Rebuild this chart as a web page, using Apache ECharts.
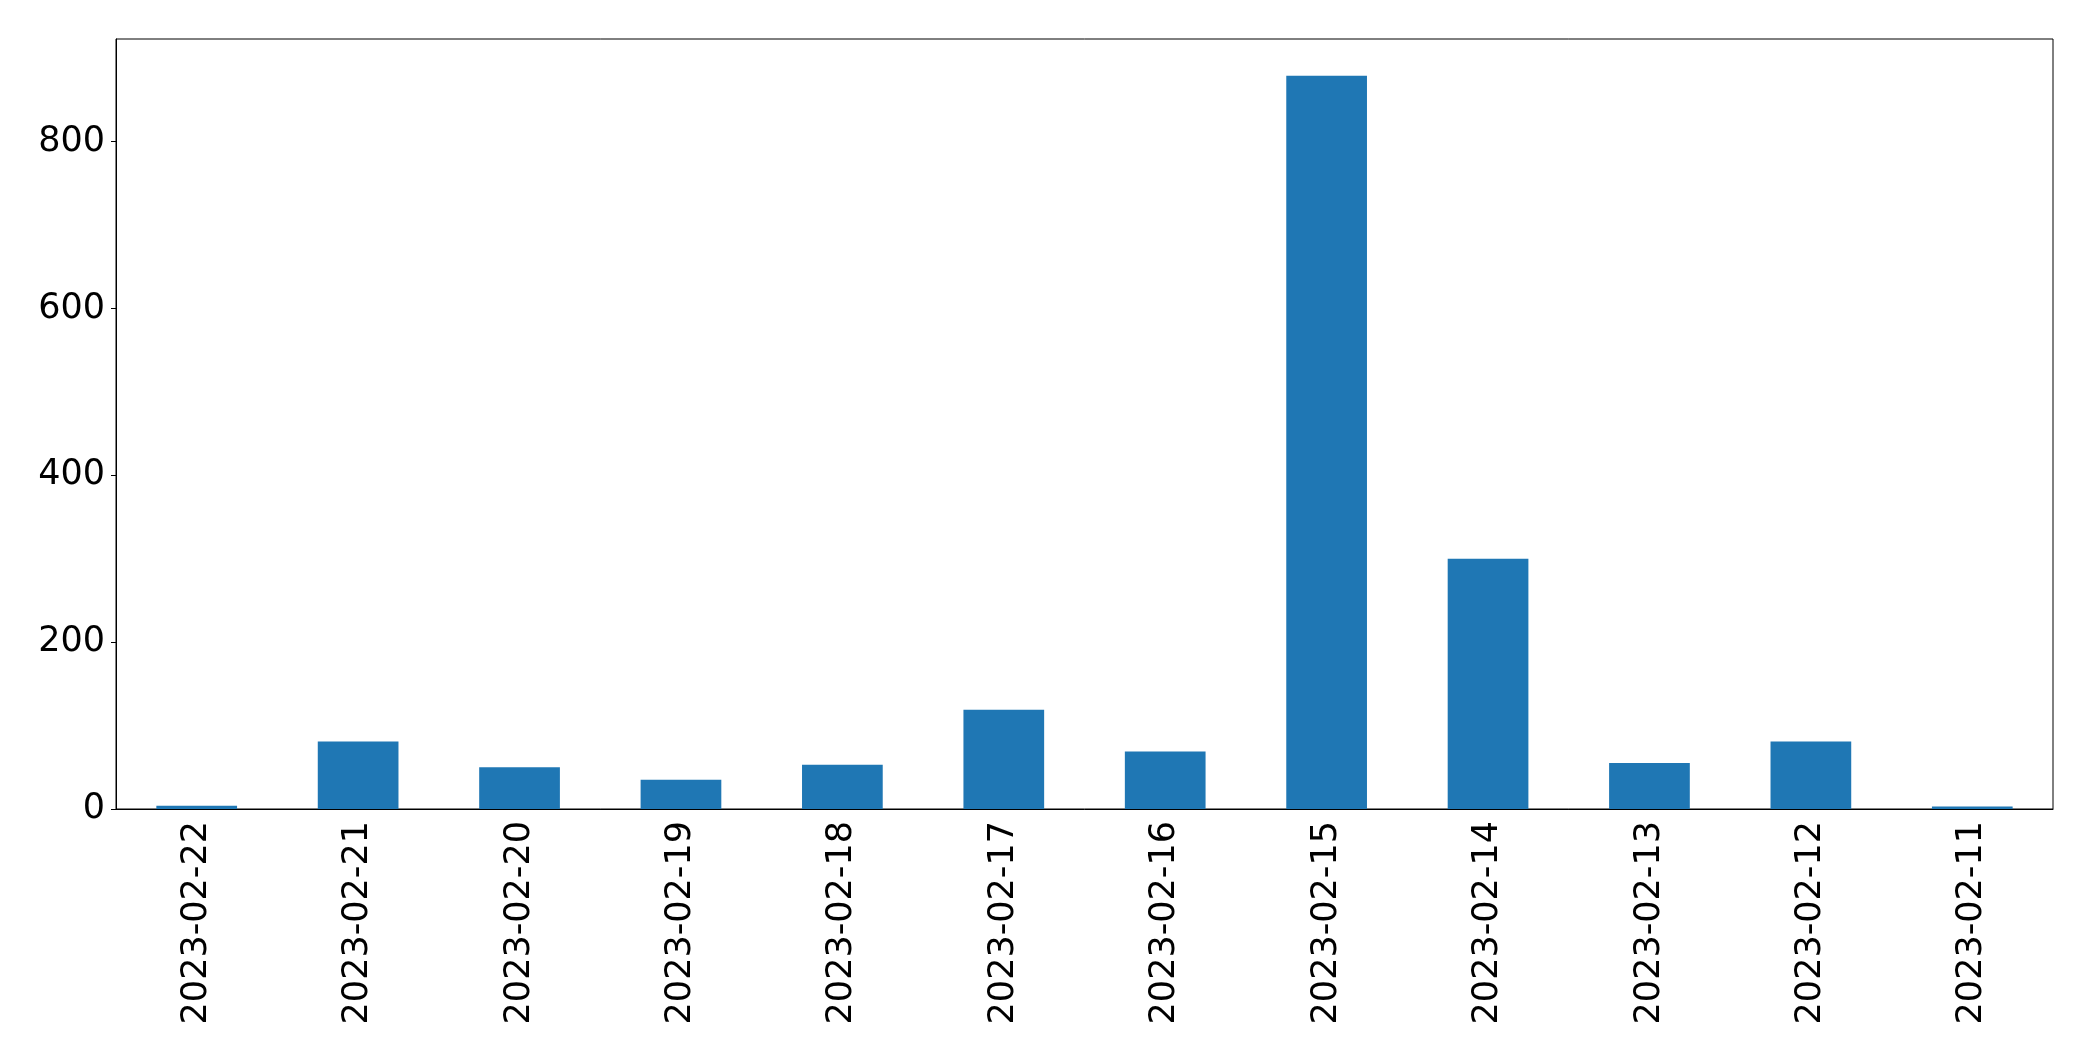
<!DOCTYPE html>
<html>
<head>
<meta charset="utf-8">
<script src="https://cdn.jsdelivr.net/npm/echarts@6/dist/echarts.min.js"></script>
<style>
html,body{margin:0;padding:0;background:#fff;}
#chart{width:2093px;height:1061px;}
</style>
</head>
<body>
<div id="chart"></div>
<script>
const categories = ["2023-02-22","2023-02-21","2023-02-20","2023-02-19","2023-02-18","2023-02-17","2023-02-16","2023-02-15","2023-02-14","2023-02-13","2023-02-12","2023-02-11"];
const values = [4, 81, 50, 35, 53, 119, 69, 879, 300, 55, 81, 3];
const yTicks = [0, 200, 400, 600, 800];

const chart = echarts.init(document.getElementById('chart'), null, {renderer: 'canvas'});
chart.setOption({
  animation: false,
  backgroundColor: '#ffffff',
  textStyle: {fontFamily: 'DejaVu Sans'},
  grid: {left: 116, right: 40, top: 39, bottom: 252, show: true, borderColor: '#000', borderWidth: 1, backgroundColor: 'transparent'},
  xAxis: {
    type: 'category',
    data: categories,
    boundaryGap: true,
    axisLine: {lineStyle: {color: '#000', width: 1}},
    axisTick: {alignWithLabel: true, length: 5, lineStyle: {color: '#000'}},
    axisLabel: {rotate: 90, fontSize: 35, color: '#000', margin: 12, fontFamily: 'DejaVu Sans', interval: 0}
  },
  yAxis: {
    type: 'value',
    min: 0,
    max: 923,
    interval: 200,
    splitLine: {show: false},
    axisLine: {show: true, lineStyle: {color: '#000', width: 1}},
    axisTick: {show: true, length: 5, customValues: yTicks, lineStyle: {color: '#000'}},
    axisLabel: {
      fontSize: 35, color: '#000', margin: 11, fontFamily: 'DejaVu Sans',
      customValues: yTicks,
      formatter: function (v) { return yTicks.indexOf(v) >= 0 ? String(v) : ''; }
    }
  },
  series: [{
    type: 'bar',
    data: values,
    barWidth: '50%',
    itemStyle: {color: '#1f77b4'}
  }]
});
</script>
</body>
</html>
